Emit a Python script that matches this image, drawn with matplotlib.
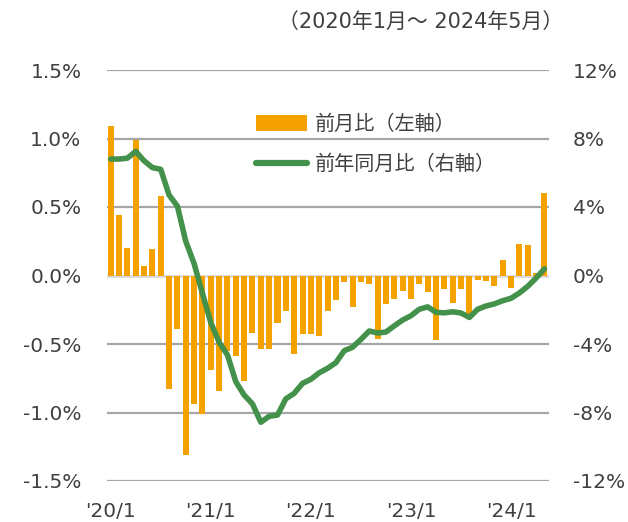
import matplotlib
matplotlib.use("Agg")
import matplotlib.pyplot as plt
from matplotlib.patches import Patch
from matplotlib.lines import Line2D
import numpy as np

# --- data (2020/1 .. 2024/5, monthly) ---
mom = [1.09, 0.44, 0.20, 0.99, 0.07, 0.19, 0.58, -0.83, -0.39, -1.31,
       -0.94, -1.01, -0.69, -0.84, -0.55, -0.59, -0.77, -0.42, -0.54, -0.54,
       -0.35, -0.26, -0.57, -0.43, -0.43, -0.44, -0.26, -0.18, -0.05, -0.23,
       -0.05, -0.06, -0.46, -0.21, -0.17, -0.11, -0.17, -0.06, -0.12, -0.47,
       -0.10, -0.20, -0.10, -0.31, -0.03, -0.04, -0.08, 0.11, -0.09, 0.23,
       0.22, 0.02, 0.60]
yoy = [6.8, 6.8, 6.85, 7.25, 6.7, 6.3, 6.2, 4.7, 4.05, 2.0,
       0.7, -1.04, -2.75, -3.9, -4.64, -6.2, -6.98, -7.5, -8.57, -8.22,
       -8.15, -7.2, -6.88, -6.3, -6.06, -5.68, -5.42, -5.09, -4.39, -4.19,
       -3.73, -3.24, -3.36, -3.3, -2.94, -2.6, -2.35, -1.97, -1.83, -2.15,
       -2.18, -2.12, -2.19, -2.45, -1.97, -1.78, -1.66, -1.47, -1.33, -1.02,
       -0.63, -0.15, 0.39]
xtick_pos = [0, 12, 24, 36, 48]
xtick_labels = ["'20/1", "'21/1", "'22/1", "'23/1", "'24/1"]
left_ticks = [1.5, 1.0, 0.5, 0.0, -0.5, -1.0, -1.5]
left_labels = ["1.5%", "1.0%", "0.5%", "0.0%", "-0.5%", "-1.0%", "-1.5%"]
right_ticks = [12, 8, 4, 0, -4, -8, -12]
right_labels = ["12%", "8%", "4%", "0%", "-4%", "-8%", "-12%"]
title = "（2020年1月～ 2024年5月）"
label_bar = "前月比（左軸）"
label_line = "前年同月比（右軸）"

BAR_C = "#F5A200"
LINE_C = "#43914A"
GRID_C = "#A6A6A6"
TXT_C = "#404040"
CJK = ["Noto Sans CJK JP", "DejaVu Sans"]
MIX = ["DejaVu Sans", "Noto Sans CJK JP"]

plt.rcParams["font.family"] = ["DejaVu Sans"]

W, H = 628, 522
fig = plt.figure(figsize=(W / 100, H / 100), dpi=100)
ax = fig.add_axes([106.5 / W, 1 - 481 / H, (548.6 - 106.5) / W, (481 - 70) / H])
ax2 = ax.twinx()

x = np.arange(len(mom))
ax.set_xlim(-0.5, len(mom) - 0.5)
ax.set_ylim(-1.5, 1.5)
ax2.set_ylim(-12, 12)

for v in left_ticks:
    if v == 0:
        ax.axhline(v, color="#D9D9D9", lw=2.0, zorder=0)
    else:
        ax.axhline(v, color=GRID_C, lw=1.6, zorder=0)

ax.bar(x, mom, width=0.72, color=BAR_C, zorder=2)
ax2.plot(x, yoy, color=LINE_C, lw=4.0, zorder=3, solid_capstyle="round", solid_joinstyle="round")

for a in (ax, ax2):
    for s in a.spines.values():
        s.set_visible(False)

FS = 14.5
ax.set_yticks(left_ticks)
ax.set_yticklabels(left_labels, fontsize=FS, color=TXT_C)
ax.tick_params(axis="y", length=0, pad=18)
ax2.set_yticks(right_ticks)
ax2.set_yticklabels(right_labels, fontsize=FS, color=TXT_C)
ax2.tick_params(axis="y", length=0, pad=17.5)
ax.set_xticks(xtick_pos)
ax.set_xticklabels(xtick_labels, fontsize=FS, color=TXT_C)
ax.tick_params(axis="x", length=0, pad=15)

fig.text(563 / W, 1 - 22 / H, title, ha="right", va="center", fontsize=15,
         color=TXT_C, family=MIX)

handles = [Patch(facecolor=BAR_C, edgecolor="none"),
           Line2D([0], [0], color=LINE_C, lw=4.5, solid_capstyle="round")]
leg = ax2.legend(handles, [label_bar, label_line], loc="upper left",
                 bbox_to_anchor=(256 / W, 1 - 114 / H), bbox_transform=fig.transFigure,
                 frameon=False, handlelength=2.55, handleheight=0.8, handletextpad=0.35,
                 labelspacing=0.95, borderpad=0, borderaxespad=0,
                 prop={"family": CJK, "size": 14.5})
for t in leg.get_texts():
    t.set_color(TXT_C)

fig.savefig("out.png", dpi=100)
